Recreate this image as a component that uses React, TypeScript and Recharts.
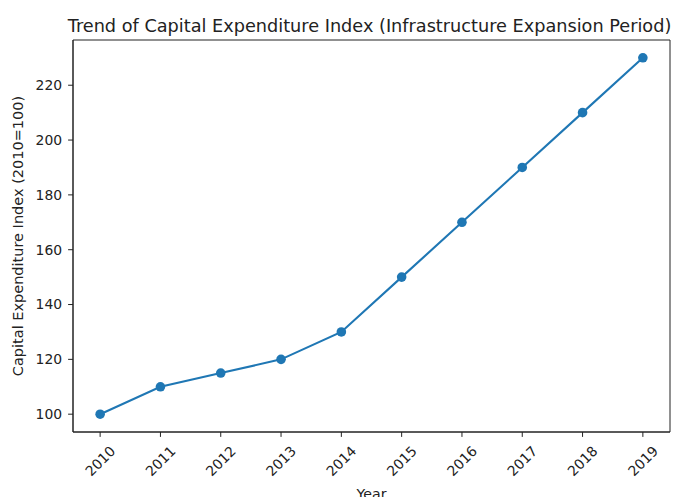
import React from "react";
import { LineChart, Line, XAxis, YAxis, Label, ReferenceArea } from "recharts";

const years = [2010, 2011, 2012, 2013, 2014, 2015, 2016, 2017, 2018, 2019];
const indexValues = [100, 110, 115, 120, 130, 150, 170, 190, 210, 230];
const yTicks = [100, 120, 140, 160, 180, 200, 220];

const data = years.map((y, i) => ({ year: y, value: indexValues[i] }));

const FONT = "'DejaVu Sans', sans-serif";
const BLUE = "#1f77b4";
const X_DOMAIN = [2009.55, 2019.45];
const Y_DOMAIN = [93.5, 236.5];

function RotatedTick(props: any) {
  const { x, y, payload } = props;
  return (
    <text
      x={x}
      y={y + 22}
      transform={`rotate(-45, ${x}, ${y + 22})`}
      textAnchor="middle"
      dominantBaseline="central"
      fontSize={13.9}
      fontFamily={FONT}
      fill="#222"
    >
      {payload.value}
    </text>
  );
}

export default function App() {
  return (
    <div style={{ position: "absolute", left: 0, top: 0, width: 677, height: 497, background: "#fff" }}>
      <svg width={677} height={40} style={{ position: "absolute", left: 0, top: 0 }}>
        <text x={369.5} y={32} textAnchor="middle" fontFamily={FONT} fontSize={17.7} fill="#222">
          Trend of Capital Expenditure Index (Infrastructure Expansion Period)
        </text>
      </svg>
      <LineChart
        width={677}
        height={497}
        data={data}
        margin={{ top: 40, right: 7, bottom: 0, left: 0 }}
      >
        <XAxis
          dataKey="year"
          type="number"
          domain={X_DOMAIN}
          ticks={years}
          tick={<RotatedTick />}
          tickSize={4.9}
          tickLine={{ stroke: "#222" }}
          axisLine={{ stroke: "#222" }}
          height={65}
          interval={0}
        >
          <Label
            value="Year"
            position="insideBottom"
            offset={-2}
            style={{ fontFamily: FONT, fontSize: 14.2, fill: "#222" }}
          />
        </XAxis>
        <YAxis
          domain={Y_DOMAIN}
          ticks={yTicks}
          width={73}
          tickSize={4.9}
          tickMargin={6}
          tickLine={{ stroke: "#222" }}
          axisLine={{ stroke: "#222" }}
          tick={{ fontFamily: FONT, fontSize: 13.9, fill: "#222" }}
          interval={0}
        >
          <Label
            value="Capital Expenditure Index (2010=100)"
            angle={-90}
            position="insideLeft"
            offset={18}
            style={{ textAnchor: "middle", fontFamily: FONT, fontSize: 14.5, fill: "#222" }}
          />
        </YAxis>
        <ReferenceArea
          x1={X_DOMAIN[0]}
          x2={X_DOMAIN[1]}
          y1={Y_DOMAIN[0]}
          y2={Y_DOMAIN[1]}
          fill="none"
          fillOpacity={0}
          stroke="#222"
          strokeWidth={1}
        />
        <Line
          type="linear"
          dataKey="value"
          stroke={BLUE}
          strokeWidth={2.1}
          dot={{ r: 4.8, fill: BLUE, stroke: BLUE, strokeWidth: 0 }}
          activeDot={false}
          isAnimationActive={false}
        />
      </LineChart>
    </div>
  );
}
